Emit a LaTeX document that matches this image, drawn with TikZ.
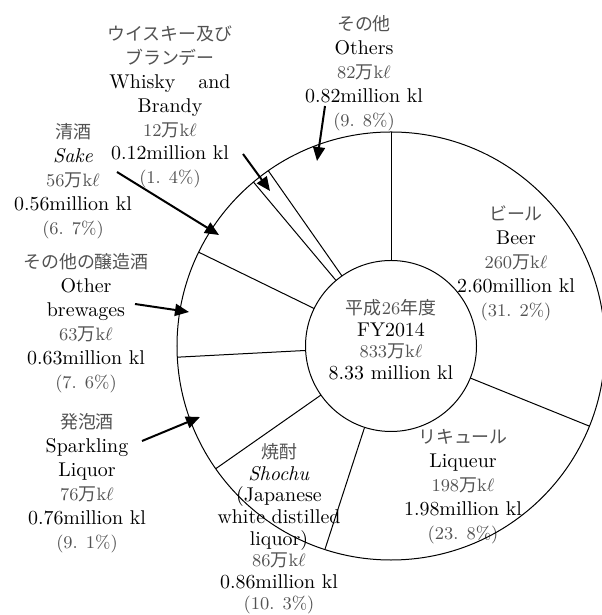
\documentclass[tikz,border=0pt]{standalone}
\usepackage{fontspec}
\newfontfamily\jp{Noto Sans CJK JP}
\usetikzlibrary{arrows.meta,calc}
\newcommand{\jlt}[1]{{\fontsize{9}{12}\selectfont\color{black!68}#1}}
\newcommand{\jkl}[1]{\jlt{#1{\jp 万}k$\ell$}}
\newcommand{\pct}[1]{\jlt{(#1)}}
\begin{document}
\begin{tikzpicture}[x=0.5bp,y=0.5bp,
  lbl/.style={align=center,font=\fontsize{10}{12}\selectfont,inner sep=0pt},
  tight/.style={font=\fontsize{10}{10.85}\selectfont},
  ptr/.style={line width=1bp,-{Triangle[length=7bp,width=6bp]}},
  rim/.style={line width=0.5bp}]
\clip (0,0) rectangle (602,615);
\coordinate (c) at (391,269);
% labels
\node[lbl] (oth) at (364,541.5) {\jlt{\jp その他}\\Others\\\jkl{82}\\0.82million kl\\\pct{9. 8\%}};
\node[lbl] (wh) at (170,508) {\jlt{\jp ウイスキー及び}\\\jlt{\jp ブランデー}\\Whisky\hspace{11.5bp}and\\Brandy\\\jkl{12}\\0.12million kl\\\pct{1. 4\%}};
\node[lbl] (sk) at (73,434) {\jlt{\jp 清酒}\\\textit{Sake}\\\jkl{56}\\0.56million kl\\\pct{6. 7\%}};
\node[lbl] (ob) at (86,292) {\jlt{\jp その他の醸造酒}\\Other\\brewages\\\jkl{63}\\0.63million kl\\\pct{7. 6\%}};
\node[lbl] (sp) at (87,132) {\jlt{\jp 発泡酒}\\Sparkling\\Liquor\\\jkl{76}\\0.76million kl\\\pct{9. 1\%}};
\node[lbl,tight] (sh) at (279,86) {\jlt{\jp 焼酎}\\\textit{Shochu}\\(Japanese\\white distilled\\liquor)\\\jkl{86}\\0.86million kl\\\pct{10. 3\%}};
\node[lbl,tight] (tot) at (391,275.5) {\jlt{{\jp 平成}26{\jp 年度}}\\FY2014\\\jkl{833}\\8.33 million kl};
\node[lbl] (beer) at (516,351.5) {\jlt{\jp ビール}\\Beer\\\jkl{260}\\2.60million kl\\\pct{31. 2\%}};
\node[lbl] (liq) at (463,128.5) {\jlt{\jp リキュール}\\Liqueur\\\jkl{198}\\1.98million kl\\\pct{23. 8\%}};
% circles
\node[circle,draw,rim,minimum size=214bp,inner sep=0pt,outer sep=0pt] (outer) at (c) {};
\node[circle,draw,rim,minimum size=85.5bp,inner sep=0pt,outer sep=0pt] (hub) at (c) {};
\foreach \a in {90,-22.32,-108,-145.08,-177.84,154.8,130.68,125.64}
  \draw[rim] (hub.\a) -- (outer.\a);
% arrows
\coordinate (othS) at (325,509);
\coordinate (othT) at (317,454);
\coordinate (whS) at (243,461);
\coordinate (whT) at (270,424);
\coordinate (skS) at (117,443);
\coordinate (skT) at (219,380);
\coordinate (obS) at (135,311);
\coordinate (obT) at (189,303);
\coordinate (spS) at (142,174);
\coordinate (spT) at (200,198);
\draw[ptr] (othS) -- (othT);
\draw[ptr] (whS) -- (whT);
\draw[ptr] (skS) -- (skT);
\draw[ptr] (obS) -- (obT);
\draw[ptr] (spS) -- (spT);
\end{tikzpicture}
\end{document}
